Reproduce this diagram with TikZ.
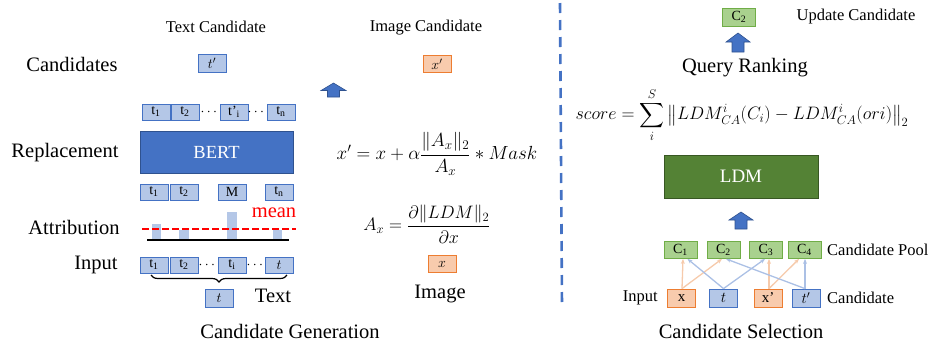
\RequirePackage{fix-cm}
\documentclass[tikz,border=0pt]{standalone}
\usepackage{amsmath}
\usepackage{fontspec}
\setmainfont{Liberation Serif}
\usetikzlibrary{arrows.meta,decorations.pathreplacing}
\definecolor{tokfill}{HTML}{B4C7E7}
\definecolor{tokline}{HTML}{4472C4}
\definecolor{imgfill}{HTML}{F8CBAD}
\definecolor{imgline}{HTML}{ED7D31}
\definecolor{poolfill}{HTML}{A9D18E}
\definecolor{poolline}{HTML}{70AD47}
\definecolor{bertfill}{HTML}{4472C4}
\definecolor{bertline}{HTML}{2F528F}
\definecolor{ldmfill}{HTML}{548235}
\definecolor{ldmline}{HTML}{385723}
\definecolor{lightorange}{HTML}{F6CAAB}
\definecolor{lightblue}{HTML}{ABC0E5}
\newcommand{\fbig}{\fontsize{20.5}{24}\selectfont}
\newcommand{\fmid}{\fontsize{16.5}{20}\selectfont}
\begin{document}
\begin{tikzpicture}[x=1pt,y=-1pt,
 tok/.style={draw=tokline,fill=tokfill,line width=0.8pt,minimum width=28pt,minimum height=16pt,inner sep=0pt,font=\fontsize{14}{14}\selectfont},
 img/.style={tok,draw=imgline,fill=imgfill},
 pool/.style={tok,draw=poolline,fill=poolfill,minimum width=33pt,minimum height=17pt},
 lbl/.style={font=\fbig,inner sep=0pt},
 sml/.style={font=\fmid,inner sep=0pt},
 blockarr/.style={draw=bertline,fill=bertfill,line width=0.6pt},
 link/.style={-{Stealth[length=5pt,width=4pt]},line width=1.3pt}]
 \useasboundingbox (0,0) rectangle (933,349);
 % candidate generation
 \node[sml] (txtcand) at (216,27) {Text Candidate};
 \node[lbl] (cands) at (72,64) {Candidates};
 \node[tok,minimum height=18pt] (tprime) at (212,63) {$t'$};
 \node[tok] (r1a) at (156,112) {t\textsubscript{1}};
 \node[tok] (r1b) at (185,112) {t\textsubscript{2}};
 \node[font=\fontsize{14}{14}\selectfont] (r1d) at (210,112) {$\cdots$};
 \node[tok] (r1i) at (234,112) {t'\textsubscript{i}};
 \node[font=\fontsize{14}{14}\selectfont] (r1e) at (257,112) {$\cdots$};
 \node[tok] (r1n) at (281,112) {t\textsubscript{n}};
 \node[draw=bertline,fill=bertfill,line width=0.8pt,minimum width=153pt,minimum height=42pt,text=white,font=\fontsize{18.5}{20}\selectfont] (bert) at (216.5,152) {BERT};
 \node[lbl] (repl) at (65,153) {Replacement};
 \node[tok] (r2a) at (154,192) {t\textsubscript{1}};
 \node[tok] (r2b) at (184,192) {t\textsubscript{2}};
 \node[tok] (r2m) at (232,192) {M};
 \node[tok] (r2n) at (279,192) {t\textsubscript{n}};
 \fill[tokfill] (152,224) rectangle (161,240);
 \fill[tokfill] (179,230) rectangle (189,240);
 \fill[tokfill] (227,212) rectangle (237,240);
 \fill[tokfill] (273,230) rectangle (282,240);
 \draw[line width=1.6pt] (147,240) -- (289,240);
 \draw[red,line width=2.5pt,dash pattern=on 7pt off 3pt] (142,229) -- (296,229);
 \node[lbl,text=red] (mean) at (274,213) {mean};
 \node[lbl] (attr) at (74,227) {Attribution};
 \node[lbl] (inp) at (96,265) {Input};
 \node[tok] (in1) at (154,265) {t\textsubscript{1}};
 \node[tok] (in2) at (184,265) {t\textsubscript{2}};
 \node[font=\fontsize{14}{14}\selectfont] (ind) at (208,265) {$\cdots$};
 \node[tok] (ini) at (232,265) {t\textsubscript{i}};
 \node[font=\fontsize{14}{14}\selectfont] (ine) at (256,265) {$\cdots$};
 \node[tok] (int) at (279,265) {$t$};
 \draw[line width=1.2pt,decorate,decoration={brace,mirror,amplitude=7pt}] (151,275) -- (287,275);
 \node[tok,minimum height=18pt] (tin) at (219,298) {$t$};
 \node[lbl] (txt) at (273,296) {Text};
 \node[lbl] (gen) at (290,331) {Candidate Generation};
 % image side
 \node[sml] (imgcand) at (426,28) {Image Candidate};
 \node[img,minimum height=17pt] (xprime) at (437,64) {$x'$};
 \draw[blockarr] (333.5,83) -- ++(12.5,7.5) -- ++(-6.5,0) -- ++(0,6.5) -- ++(-12,0) -- ++(0,-6.5) -- ++(-6.5,0) -- cycle;
 \node[font=\fontsize{19}{22}\selectfont] (eqx) at (437,154) {$x' = x + \alpha\dfrac{\|A_x\|_2}{A_x} * Mask$};
 \node[font=\fontsize{18}{21}\selectfont] (eqa) at (427,224) {$A_x = \dfrac{\partial\|LDM\|_2}{\partial x}$};
 \node[img,minimum height=17pt] (ximg) at (442,264) {$x$};
 \node[lbl] (image) at (440,294) {Image};
 % divider
 \draw[tokline,line width=2.6pt,dash pattern=on 10pt off 7pt] (560,3) -- (562,307);
 % candidate selection
 \node[pool,minimum height=18pt] (cup) at (739,17) {C\textsubscript{2}};
 \node[sml] (upd) at (856,17) {Update Candidate};
 \draw[blockarr] (738,33) -- ++(12,9) -- ++(-6,0) -- ++(0,10) -- ++(-12,0) -- ++(0,-10) -- ++(-6,0) -- cycle;
 \node[lbl] (rank) at (745,68) {Query Ranking};
 \node[font=\fontsize{18}{21}\selectfont] (score) at (742,115) {$score = \displaystyle\sum_{i}^{S}\left\|LDM_{CA}^{i}(C_i) - LDM_{CA}^{i}(ori)\right\|_2$};
 \node[draw=ldmline,fill=ldmfill,line width=0.8pt,minimum width=154pt,minimum height=43pt,text=white,font=\fontsize{19}{20}\selectfont] (ldm) at (741,176.5) {LDM};
 \draw[blockarr] (741,212) -- ++(12,8) -- ++(-6,0) -- ++(0,9) -- ++(-12,0) -- ++(0,-9) -- ++(-6,0) -- cycle;
 \node[pool] (c1) at (680.5,250) {C\textsubscript{1}};
 \node[pool] (c2) at (723.5,250) {C\textsubscript{2}};
 \node[pool] (c3) at (766,250) {C\textsubscript{3}};
 \node[pool] (c4) at (804.5,250) {C\textsubscript{4}};
 \node[sml,anchor=west] (poollbl) at (827,250) {Candidate Pool};
 \node[img,minimum height=18pt,font=\fontsize{15}{15}\selectfont] (bx) at (681.5,298) {x};
 \node[tok,minimum height=18pt,font=\fontsize{15}{15}\selectfont] (bt) at (723.5,298) {$t$};
 \node[img,minimum height=18pt,font=\fontsize{15}{15}\selectfont] (bxp) at (768,298) {x'};
 \node[tok,minimum height=18pt,font=\fontsize{15}{15}\selectfont] (btp) at (806,298) {$t'$};
 \node[sml,anchor=east] (inlbl) at (658,298) {Input};
 \node[sml,anchor=west] (candlbl) at (827,298) {Candidate};
 \draw[link,lightorange] ([xshift=0.5pt]bx.north) -- ([xshift=2.5pt]c1.south);
 \draw[link,lightorange] ([xshift=0.5pt]bx.north) -- ([xshift=-1.5pt]c2.south);
 \draw[link,lightblue] (bt.north) -- ([xshift=7pt]c1.south);
 \draw[link,lightblue] (bt.north) -- ([xshift=-1pt]c3.south);
 \draw[link,lightorange] ([xshift=1pt]bxp.north) -- ([xshift=3pt]c3.south);
 \draw[link,lightorange] ([xshift=1pt]bxp.north) -- ([xshift=-5.5pt]c4.south);
 \draw[link,lightblue] ([xshift=-1pt]btp.north) -- ([xshift=2.5pt]c2.south);
 \draw[link,lightblue] ([xshift=-1pt]btp.north) -- ([xshift=0.5pt]c4.south);
 \node[lbl] (sel) at (741,331) {Candidate Selection};
\end{tikzpicture}
\end{document}
